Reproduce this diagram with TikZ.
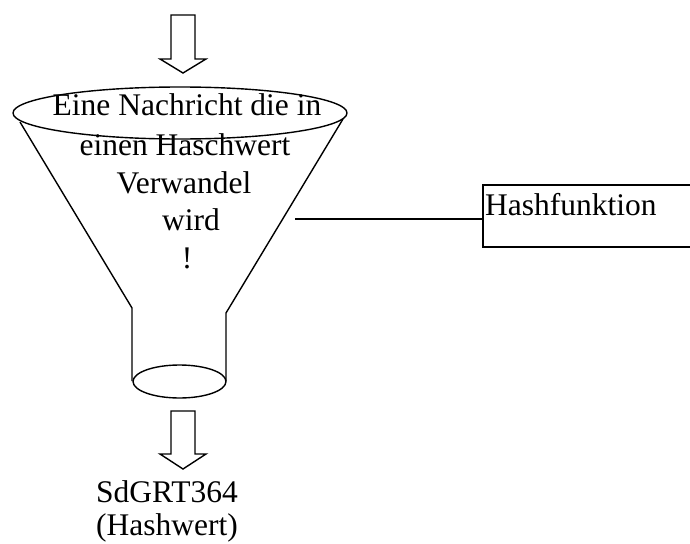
\documentclass[tikz,border=0pt]{standalone}
\usepackage{fontspec}
\setmainfont{Liberation Serif}
\begin{document}
\begin{tikzpicture}[x=1pt,y=-1pt,
  line/.style={draw=black,line width=1.4pt},
  txt/.style={font=\fontsize{31.5}{36}\selectfont,inner sep=0pt,anchor=base},
  blockarrow/.style={draw=black,line width=1.4pt,fill=white,line join=miter}]
\useasboundingbox (0,0) rectangle (690,543);
% top arrow
\draw[blockarrow] (171,15) -- (195,15) -- (195,59) -- (206,59) -- (183,73) -- (160,59) -- (171,59) -- cycle;
% funnel
\draw[line] (180,113) ellipse [x radius=167, y radius=26];
\draw[line] (20,122) -- (132,308) -- (132,381);
\draw[line] (343,119) -- (226,313) -- (226,381);
\draw[line] (179.5,381.5) ellipse [x radius=46.5, y radius=16.5];
% funnel text
\node[txt] (l1) at (187,115) {Eine Nachricht die in};
\node[txt] (l2) at (185,155) {einen Haschwert};
\node[txt] (l3) at (184,193) {Verwandel};
\node[txt] (l4) at (191,230) {wird};
\node[txt] (l5) at (187,268) {!};
% bottom arrow
\draw[blockarrow] (171,411) -- (195,411) -- (195,454) -- (206,454) -- (183,469) -- (160,454) -- (171,454) -- cycle;
\node[txt] (out1) at (167,502) {SdGRT364};
\node[txt] (out2) at (167,535) {(Hashwert)};
% label box
\coordinate (f) at (295,219);
\coordinate (b) at (483,219);
\draw[line] (f) -- (b);
\draw[line] (692,185) -- (483,185) -- (483,247) -- (692,247);
\node[txt,anchor=base west] (hash) at (485,215) {Hashfunktion};
\end{tikzpicture}
\end{document}
